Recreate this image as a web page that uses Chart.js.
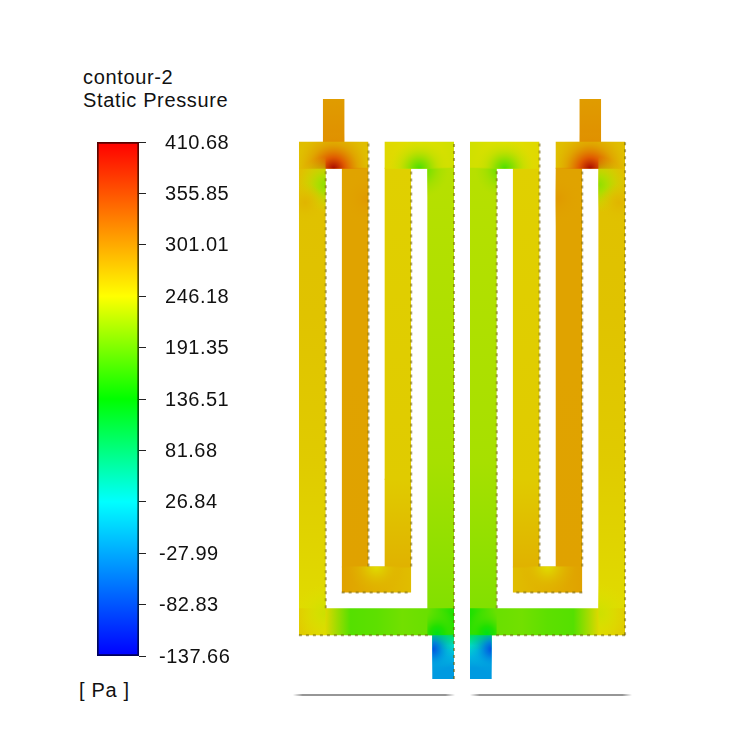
<!DOCTYPE html>
<html>
<head>
<meta charset="utf-8">
<title>contour-2 Static Pressure</title>
<script src="https://cdn.jsdelivr.net/npm/chart.js@4/dist/chart.umd.min.js"></script>
<style>
  html, body { margin: 0; background: #fff; }
  #page { position: relative; width: 737px; height: 740px; overflow: hidden; }
  canvas { position: absolute; }
  .cap { position: absolute; font: 20px "Liberation Sans", sans-serif; color: #111; letter-spacing: 0.65px; white-space: pre; line-height: 23px; }
</style>
</head>
<body>
<div id="page">
  <div class="cap" id="capTitle" style="left:83px;top:66px"></div>
  <div class="cap" id="capUnit" style="left:79px;top:679px"></div>
  <canvas id="legend" width="260" height="740" style="left:0;top:0"></canvas>
  <canvas id="field" width="360" height="620" style="left:280px;top:90px"></canvas>
</div>
<script>
const titleLines = ['contour-2', 'Static Pressure'];
const unitLabel = '[ Pa ]';

const pressureMin = -137.66;
const pressureMax = 410.68;
const tickValues = [410.68, 355.85, 301.01, 246.18, 191.35, 136.51, 81.68, 26.84, -27.99, -82.83, -137.66];

// colour map: fraction of range -> rgb
const mapStops = [0, 0.3, 0.5, 0.7, 1];
const mapColors = [[0, 0, 255], [0, 255, 255], [0, 255, 0], [255, 255, 0], [255, 0, 0]];

// left half of the plate, right half is the mirror. units: x from centre line, y up from outlet end
// neighbouring patches overlap by one unit so no seams show
const patchX0 = [-140, -164, -164, -121, -121, -78, -78, -78, -35, -164, -30];
const patchX1 = [-118, -94, -137, -94, -51, -51, -51, -8, -8, -8, -8];
const patchY0 = [538, 512, 70, 112, 87, 112, 200, 512, 70, 44, 0];
const patchY1 = [582, 539, 513, 513, 113, 201, 513, 539, 513, 71, 45];
const patchAxis = ['y', 'y', 'y', 'y', 'x', 'y', 'y', 'x', 'y', 'x', 'y'];
const patchPressure = [
  [306, 296],
  [268, 272],
  [250, 262, 268, 270],
  [292, 291, 291],
  [292, 282, 272],
  [280, 262],
  [262, 258],
  [252, 246, 238],
  [200, 218, 222, 226],
  [262, 252, 178, 182, 192, 188, 150],
  [-25, -25, -5, 40, 110]
];

// pressure hot and cold spots, each held inside its own box
const blobX = [-129, -129, -137, -158, -96, -43, -43, -86, -137, -25, -25, -30];
const blobY = [512, 512, 496, 478, 482, 512, 512, 113, 66, 46, 46, 30];
const blobR = [38, 38, 28, 20, 28, 30, 30, 28, 30, 24, 24, 24];
const blobP = [404, 404, 205, 278, 298, 172, 172, 248, 236, 125, 125, -80];
const blobBase = [290, 290, 235, 270, 290, 235, 215, 280, 245, 180, 60, -10];
const blobX0 = [-164, -140, -164, -164, -121, -78, -35, -121, -164, -35, -30, -30];
const blobX1 = [-94, -118, -137, -137, -94, -8, -8, -51, -137, -8, -8, -8];
const blobY0 = [512, 539, 440, 440, 430, 512, 470, 87, 44, 44, 30, 0];
const blobY1 = [539, 582, 539, 512, 512, 539, 512, 113, 105, 71, 44, 44];

// rough dark edges along the walls
const edgeX = [-137, -94, -51, -8, 35, 78, 121, 164];
const edgeY0 = [71, 113, 113, 0, 71, 113, 113, 44];
const edgeY1 = [512, 539, 512, 539, 512, 539, 512, 539];
const floorEdgeY = [44, 87];
const floorEdgeX0 = [-164, -121];
const floorEdgeX1 = [-30, -51];

// grey base lines under the plate
const groundY = -16;
const groundX0 = [-170, 8];
const groundX1 = [-7, 171];

function pressureColor(p, shade, alpha) {
  const t = Math.min(1, Math.max(0, (p - pressureMin) / (pressureMax - pressureMin)));
  let i = 0;
  while (i < mapStops.length - 2 && t > mapStops[i + 1]) i++;
  const f = (t - mapStops[i]) / (mapStops[i + 1] - mapStops[i]);
  const c = mapColors[i].map((v, k) => Math.round((v + (mapColors[i + 1][k] - v) * f) * shade));
  return 'rgba(' + c[0] + ',' + c[1] + ',' + c[2] + ',' + alpha + ')';
}

const fieldShade = 0.88;

// options get resolved once before the scales have a size
function scalesReady(chart) {
  return chart.chartArea && chart.chartArea.width > 0 && chart.scales.x && Number.isFinite(chart.scales.x.getPixelForValue(0));
}

function patchFill(context, x0, x1, y0, y1, axis, values) {
  const { ctx, scales } = context.chart;
  if (!scalesReady(context.chart)) return 'transparent';
  const g = axis === 'x'
    ? ctx.createLinearGradient(scales.x.getPixelForValue(x0), 0, scales.x.getPixelForValue(x1), 0)
    : ctx.createLinearGradient(0, scales.y.getPixelForValue(y0), 0, scales.y.getPixelForValue(y1));
  values.forEach((v, i) => g.addColorStop(i / (values.length - 1), pressureColor(v, fieldShade, 1)));
  return g;
}

function blobFill(context, cx, cy, r, p, base) {
  const { ctx, scales } = context.chart;
  if (!scalesReady(context.chart)) return 'transparent';
  const px = scales.x.getPixelForValue(cx);
  const py = scales.y.getPixelForValue(cy);
  const pr = Math.abs(scales.x.getPixelForValue(cx + r) - px);
  const g = ctx.createRadialGradient(px, py, 0, px, py, pr);
  g.addColorStop(0, pressureColor(p, fieldShade * (p > 380 ? 0.75 : 1), 1));
  g.addColorStop(0.3, pressureColor(p + (base - p) * 0.45, fieldShade, 0.9));
  g.addColorStop(0.65, pressureColor(p + (base - p) * 0.8, fieldShade, 0.45));
  g.addColorStop(1, pressureColor(base, fieldShade, 0));
  return g;
}

// colour bar gradient, darkened for its outline
function barGradient(chart, shade) {
  if (!chart.chartArea) return 'transparent';
  const s = chart.scales.y;
  const g = chart.ctx.createLinearGradient(0, s.getPixelForValue(pressureMin), 0, s.getPixelForValue(pressureMax));
  mapStops.forEach((t, i) => {
    g.addColorStop(t, 'rgb(' + mapColors[i].map(v => Math.round(v * shade)).join(',') + ')');
  });
  return g;
}

function boxDataset(x0, x1, y0, y1, fillFn) {
  return {
    data: [{ x: x0, y: y1 }, { x: x1, y: y1 }],
    showLine: true,
    borderWidth: 0,
    pointRadius: 0,
    fill: { value: y0 },
    backgroundColor: fillFn
  };
}

function lineDataset(points, color, width, dash) {
  return {
    data: points,
    showLine: true,
    pointRadius: 0,
    fill: false,
    borderColor: color,
    borderWidth: width,
    borderDash: dash || []
  };
}

const fieldSets = [];

[1, -1].forEach(side => {
  patchX0.forEach((_, i) => {
    const a = side > 0 ? patchX0[i] : -patchX1[i];
    const b = side > 0 ? patchX1[i] : -patchX0[i];
    const vals = side < 0 && patchAxis[i] === 'x' ? patchPressure[i].slice().reverse() : patchPressure[i];
    fieldSets.push(boxDataset(a, b, patchY0[i], patchY1[i],
      c => patchFill(c, a, b, patchY0[i], patchY1[i], patchAxis[i], vals)));
  });
});

[1, -1].forEach(side => {
  blobX.forEach((_, i) => {
    const a = side > 0 ? blobX0[i] : -blobX1[i];
    const b = side > 0 ? blobX1[i] : -blobX0[i];
    fieldSets.push(boxDataset(a, b, blobY0[i], blobY1[i],
      c => blobFill(c, side * blobX[i], blobY[i], blobR[i], blobP[i], blobBase[i])));
  });
});

const wallColor = 'rgba(105,90,0,0.55)';
edgeX.forEach((x, i) => {
  fieldSets.push(lineDataset([{ x: x, y: edgeY0[i] }, { x: x, y: edgeY1[i] }], wallColor, 2, [3, 4]));
});
[1, -1].forEach(side => {
  floorEdgeY.forEach((y, i) => {
    fieldSets.push(lineDataset([{ x: side * floorEdgeX0[i], y: y }, { x: side * floorEdgeX1[i], y: y }], wallColor, 2, [3, 4]));
  });
});

groundX0.forEach((x0, i) => {
  const x1 = groundX1[i];
  fieldSets.push({
    data: [{ x: x0, y: groundY }, { x: x1, y: groundY }],
    showLine: true,
    pointRadius: 0,
    fill: false,
    borderWidth: 2,
    borderColor: c => {
      if (!scalesReady(c.chart)) return 'transparent';
      const s = c.chart.scales.x;
      const g = c.chart.ctx.createLinearGradient(s.getPixelForValue(x0), 0, s.getPixelForValue(x1), 0);
      g.addColorStop(0, 'rgba(150,150,150,0)');
      g.addColorStop(0.06, 'rgba(150,150,150,1)');
      g.addColorStop(0.94, 'rgba(150,150,150,1)');
      g.addColorStop(1, 'rgba(150,150,150,0)');
      return g;
    }
  });
});

// chart.js paints the lowest order last, so keep array order = paint order
fieldSets.forEach((d, i) => { d.order = fieldSets.length - i; });

document.getElementById('capTitle').textContent = titleLines.join('\n');
document.getElementById('capUnit').textContent = unitLabel;

const fieldChart = new Chart(document.getElementById('field'), {
  type: 'scatter',
  data: { datasets: fieldSets },
  options: {
    responsive: false,
    animation: false,
    layout: { padding: 0 },
    plugins: { legend: { display: false }, tooltip: { enabled: false } },
    scales: {
      x: { type: 'linear', display: false, min: -182, max: 178 },
      y: { type: 'linear', display: false, min: -30, max: 590 }
    }
  }
});
fieldChart.update();

const legendChart = new Chart(document.getElementById('legend'), {
  type: 'bar',
  data: {
    labels: ['Static Pressure'],
    datasets: [{
      data: [[pressureMin, pressureMax]],
      barPercentage: 1,
      categoryPercentage: 1,
      borderWidth: 2,
      borderSkipped: false,
      borderColor: c => barGradient(c.chart, 0.35),
      backgroundColor: c => barGradient(c.chart, 1)
    }]
  },
  options: {
    responsive: false,
    animation: false,
    layout: { padding: { left: 97, top: 142, bottom: 84, right: 0 } },
    plugins: { legend: { display: false }, tooltip: { enabled: false } },
    scales: {
      x: { display: false },
      y: {
        position: 'right',
        min: pressureMin,
        max: pressureMax,
        border: { display: false },
        grid: { drawOnChartArea: false, tickLength: 7, tickColor: '#222', tickWidth: 1 },
        afterBuildTicks: scale => { scale.ticks = tickValues.map(v => ({ value: v })); },
        afterFit: scale => { scale.width = 121; },
        ticks: {
          autoSkip: false,
          crossAlign: 'near',
          padding: 13,
          labelOffset: 1,
          color: '#111',
          font: { family: '"Liberation Sans", sans-serif', size: 20 },
          callback: v => (v < 0 ? '' : ' ') + v.toFixed(2)
        }
      }
    }
  },
  plugins: [{
    id: 'spacing',
    beforeDraw: chart => { chart.ctx.letterSpacing = '0.5px'; }
  }]
});
legendChart.update();
</script>
</body>
</html>
